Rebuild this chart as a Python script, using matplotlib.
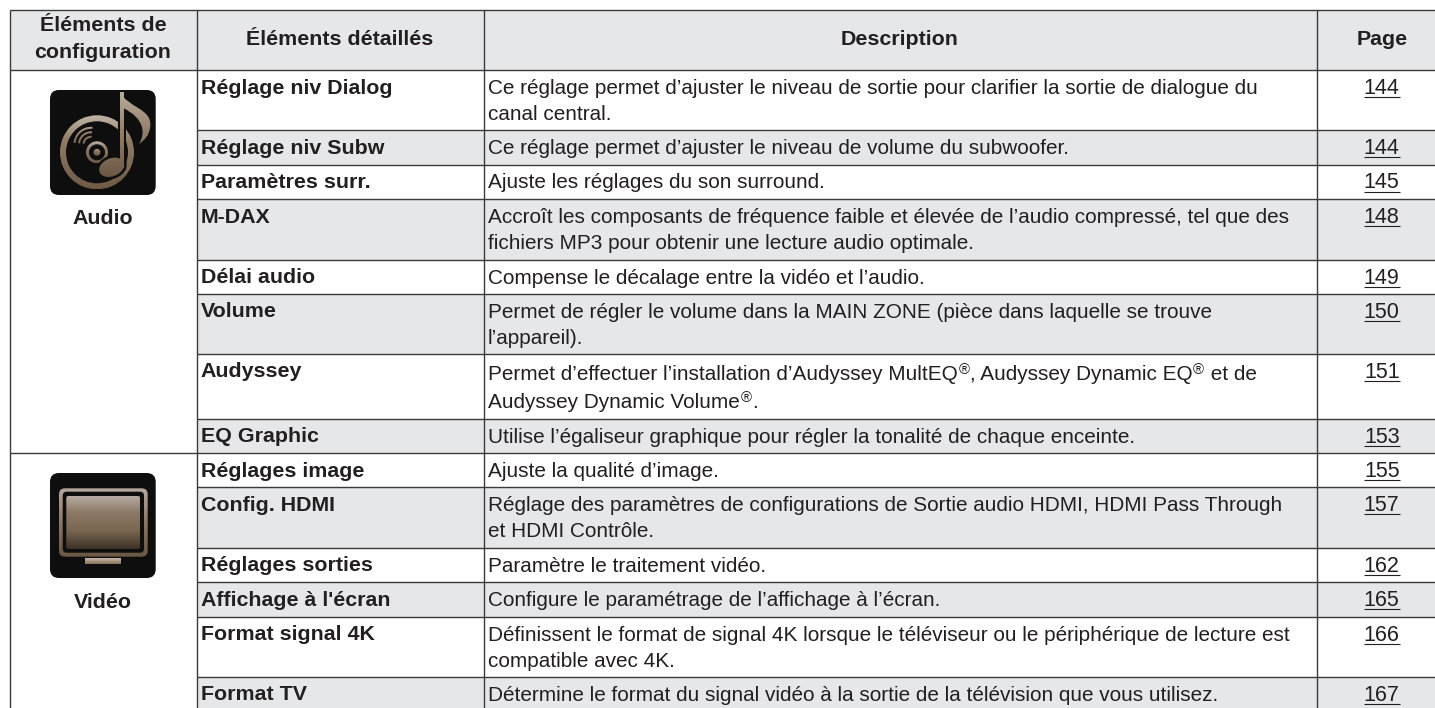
import numpy as np
import matplotlib
matplotlib.use('Agg')
import matplotlib.pyplot as plt
from matplotlib.patches import Rectangle, FancyBboxPatch, Circle, Wedge, Ellipse, PathPatch
from matplotlib.path import Path
from matplotlib.colors import LinearSegmentedColormap

# Table content
headers = ['Éléments détaillés', 'Description', 'Page']
header_first = ['Éléments de', 'configuration']
groups = ['Audio', 'Vidéo']
items = ['Réglage niv Dialog', 'Réglage niv Subw', 'Paramètres surr.', 'M-DAX', 'Délai audio',
         'Volume', 'Audyssey', 'EQ Graphic', 'Réglages image', 'Config. HDMI', 'Réglages sorties',
         "Affichage à l'écran", 'Format signal 4K', 'Format TV']
descriptions = [
    ['Ce réglage permet d’ajuster le niveau de sortie pour clarifier la sortie de dialogue du', 'canal central.'],
    ['Ce réglage permet d’ajuster le niveau de volume du subwoofer.'],
    ['Ajuste les réglages du son surround.'],
    ['Accroît les composants de fréquence faible et élevée de l’audio compressé, tel que des',
     'fichiers MP3 pour obtenir une lecture audio optimale.'],
    ['Compense le décalage entre la vidéo et l’audio.'],
    ['Permet de régler le volume dans la MAIN ZONE (pièce dans laquelle se trouve', 'l’appareil).'],
    ['Permet d’effectuer l’installation d’Audyssey MultEQ®, Audyssey Dynamic EQ® et de',
     'Audyssey Dynamic Volume®.'],
    ['Utilise l’égaliseur graphique pour régler la tonalité de chaque enceinte.'],
    ['Ajuste la qualité d’image.'],
    ['Réglage des paramètres de configurations de Sortie audio HDMI, HDMI Pass Through', 'et HDMI Contrôle.'],
    ['Paramètre le traitement vidéo.'],
    ['Configure le paramétrage de l’affichage à l’écran.'],
    ['Définissent le format de signal 4K lorsque le téléviseur ou le périphérique de lecture est',
     'compatible avec 4K.'],
    ['Détermine le format du signal vidéo à la sortie de la télévision que vous utilisez.'],
]
pages = [144, 144, 145, 148, 149, 150, 151, 153, 155, 157, 162, 165, 166, 167]

# Layout in pixels
row_edges = [70, 130, 164.5, 199, 259.5, 293.7, 353.7, 418.7, 453, 487, 547.7, 582, 616.7, 676.7, 708]
col_edges = [9.5, 196.5, 483.7, 1317, 1435]
GREY = '#e6e7e8'
LINE = '#3a3a3b'
TXT = '#231f20'
FS = 14.95
FS_BOLD = 15.4
FS_PAGE = 15.5

plt.rcParams['font.family'] = ['Liberation Sans', 'DejaVu Sans']

fig = plt.figure(figsize=(14.35, 7.08), dpi=100)
ax = fig.add_axes([0, 0, 1, 1])
ax.set_xlim(0, 1435)
ax.set_ylim(708, 0)
ax.axis('off')


def gradient(stops, x0, x1, y0, y1, clip, z=4):
    # vertical gradient clipped to a patch
    cmap = LinearSegmentedColormap.from_list('g', stops)
    im = ax.imshow(np.linspace(0, 1, 128).reshape(-1, 1), cmap=cmap, extent=(x0, x1, y1, y0),
                   aspect='auto', zorder=z, interpolation='bilinear')
    clip.set_transform(ax.transData)
    im.set_clip_path(clip)
    ax.set_xlim(0, 1435)
    ax.set_ylim(708, 0)


def rounded(x, y, w, h, r, **kw):
    return FancyBboxPatch((x + r, y + r), w - 2 * r, h - 2 * r, boxstyle=f'round,pad={r},rounding_size={r}',
                          linewidth=0, **kw)


def icon_box(y):
    ax.add_patch(rounded(50, y, 105.7, 105, 9, facecolor='#0e0e0e', zorder=3))


def draw_audio_icon():
    icon_box(90)
    cx, cy = 97, 152.3
    ring_stops = [(0, '#c0b4a6'), (0.35, '#8f7a64'), (1, '#6e5a45')]
    gradient(ring_stops, cx - 37, cx + 37, cy - 37, cy + 37, Wedge((cx, cy), 37, 0, 360, width=6))
    gradient(ring_stops, cx - 11, cx + 11, cy - 11, cy + 11, Wedge((cx, cy), 11, 0, 360, width=3))
    gradient(ring_stops, cx - 4, cx + 4, cy - 4, cy + 4, Circle((cx, cy), 3.4))
    # sound waves
    for r in (7.5, 12, 16.5):
        gradient(ring_stops, cx - 30, cx + 5, cy - 30, cy + 5,
                 Wedge((cx - 6, cy - 8), r + 1, 185, 275, width=2))
    # halo and note
    ax.add_patch(Ellipse((111.7, 167.3), 31, 23, angle=-22, facecolor='#0e0e0e', zorder=4.5))
    ax.add_patch(Rectangle((118, 92), 7.5, 78, facecolor='#0e0e0e', zorder=4.5))
    note_stops = [(0, '#b9ac9c'), (0.45, '#93806b'), (1, '#6b5844')]
    gradient(note_stops, 98, 125, 92, 178, Ellipse((111.7, 167.3), 26, 18, angle=-22), z=5)
    gradient(note_stops, 98, 125, 92, 178, Rectangle((120, 92), 3.6, 76), z=5)
    verts = [(121, 92), (125, 107), (154, 108), (150, 128), (149, 135), (145, 140), (139, 144),
             (146, 133), (144, 118), (123, 108), (121, 92)]
    codes = [Path.MOVETO] + [Path.CURVE4] * 9 + [Path.LINETO]
    gradient(note_stops, 120, 155, 92, 178, PathPatch(Path(verts, codes)), z=5)


def draw_video_icon():
    icon_box(473)
    frame = rounded(59, 488.3, 88.7, 68.4, 6, facecolor='none')
    gradient([(0, '#b3a99d'), (0.5, '#8b7763'), (1, '#6a5743')], 59, 147.7, 488.3, 556.7, frame)
    ax.add_patch(rounded(62.7, 491.7, 81.3, 61, 4, facecolor='#0e0e0e', zorder=4.5))
    screen = rounded(66.3, 496, 73.7, 53, 2, facecolor='none')
    im_stops = [(0, '#b5aca3'), (0.3, '#8d7a66'), (0.65, '#7a6752'), (1, '#3c3127')]
    gradient(im_stops, 66.3, 140, 496, 549, screen, z=5)
    gradient([(0, '#c4b8aa'), (1, '#89735a')], 85, 121, 558.3, 564, Rectangle((85, 558.3), 36, 5.7))


# Bands
ax.add_patch(Rectangle((col_edges[0], 9.5), 1435 - col_edges[0], 60.5, facecolor=GREY, edgecolor='none', zorder=1))
for i in range(1, len(items), 2):
    ax.add_patch(Rectangle((col_edges[1], row_edges[i]), 1435 - col_edges[1], row_edges[i + 1] - row_edges[i],
                           facecolor=GREY, edgecolor='none', zorder=1))

# Grid lines
for y in row_edges[:-1] + [9.5]:
    x0 = col_edges[0] if y in (9.5, 70, 453) else col_edges[1]
    ax.plot([x0, 1435], [y, y], color=LINE, lw=1.0, zorder=2, solid_capstyle='butt')
for x in col_edges[:-1]:
    ax.plot([x, x], [9.5, 708], color=LINE, lw=1.0, zorder=2, solid_capstyle='butt')

# Header
for txt, yb in zip(header_first, [31, 58]):
    ax.text(103, yb, txt, ha='center', va='baseline', fontsize=FS_BOLD, fontweight='bold', color=TXT)
for txt, xc in zip(headers, [340, 900, 1381.7]):
    ax.text(xc, 45, txt, ha='center', va='baseline', fontsize=FS_BOLD, fontweight='bold', color=TXT)

fig.canvas.draw()
renderer = fig.canvas.get_renderer()


def desc_line(x, y, line):
    # the registered sign is set as a small raised glyph
    parts = line.split('®')
    for k, part in enumerate(parts):
        t = ax.text(x, y, part, ha='left', va='baseline', fontsize=FS, color=TXT)
        x += t.get_window_extent(renderer).width + 0.6 if part else 0
        if k < len(parts) - 1:
            r = ax.text(x, y - 5.5, '®', ha='left', va='baseline', fontsize=FS * 0.72, color=TXT)
            x += r.get_window_extent(renderer).width + 0.6


# Rows
for i, (item, lines, page) in enumerate(zip(items, descriptions, pages)):
    top = row_edges[i]
    yb = top + (26.3 if item == 'Audyssey' else 24)
    step = 28 if item == 'Audyssey' else 26
    ax.text(200.7, top + 23.6, item, ha='left', va='baseline', fontsize=FS_BOLD, fontweight='bold', color=TXT)
    for j, line in enumerate(lines):
        desc_line(488, yb + j * step, line)
    t = ax.text(1381.7, top + 24, str(page), ha='center', va='baseline', fontsize=FS_PAGE, color=TXT)
    ext = t.get_window_extent(renderer)
    ax.plot([ext.x0, ext.x1], [top + 27, top + 27], color=TXT, lw=0.8, zorder=3, solid_capstyle='butt')

# Groups
draw_audio_icon()
draw_video_icon()
ax.text(103, 224.5, groups[0], ha='center', va='baseline', fontsize=FS_BOLD, fontweight='bold', color=TXT)
ax.text(103, 607.7, groups[1], ha='center', va='baseline', fontsize=FS_BOLD, fontweight='bold', color=TXT)

fig.savefig('out.png', dpi=100, facecolor='white')
